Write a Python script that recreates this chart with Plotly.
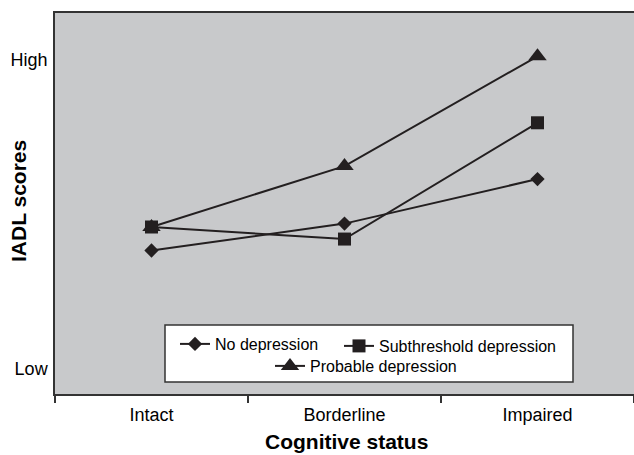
import plotly.graph_objects as go

categories = ["Intact", "Borderline", "Impaired"]
no_depression = [3.82, 4.69, 6.13]
subthreshold_depression = [4.58, 4.19, 7.95]
probable_depression = [4.58, 6.55, 10.1]
y_tick_vals = [0, 10]
y_tick_text = ["Low", "High"]
x_title = "Cognitive status"
y_title = "IADL scores"

INK = "#231f20"
FONT = "Liberation Sans, Arial, sans-serif"

fig = go.Figure()
series = [
    ("No depression", no_depression, "diamond", 11, "legend"),
    ("Subthreshold depression", subthreshold_depression, "square", 13, "legend2"),
    ("Probable depression", probable_depression, "triangle-up", 16, "legend3"),
]
# draw probable first so square sits on top at Intact
for name, vals, sym, size, lg in [series[2], series[0], series[1]]:
    fig.add_trace(go.Scatter(
        x=categories, y=vals, name=name, mode="lines+markers",
        line=dict(color=INK, width=2),
        marker=dict(symbol=sym, size=size, color=INK),
        legend=lg,
    ))

W, H = 634, 455
ml, mt, mb, mr = 55, 13, 61, 0
pw = W - ml - mr
ph = H - mt - mb

def px(x):
    return (x - ml) / pw

def py(y):
    return (H - mb - y) / ph

leg_common = dict(bgcolor="rgba(0,0,0,0)", borderwidth=0,
                  font=dict(family=FONT, size=16, color="#000"),
                  xanchor="left", yanchor="middle", orientation="h")

fig.update_layout(
    width=W, height=H,
    margin=dict(l=ml, r=mr, t=mt, b=mb, autoexpand=False),
    paper_bgcolor="white",
    plot_bgcolor="#c8c9cb",
    font=dict(family=FONT, color="#000"),
    showlegend=True,
    legend=dict(x=px(175), y=py(344), **leg_common),
    legend2=dict(x=px(339), y=py(346), **leg_common),
    legend3=dict(x=px(270), y=py(366), **leg_common),
    shapes=[dict(type="rect", xref="paper", yref="paper",
                 x0=px(165), x1=px(573), y0=py(382), y1=py(325),
                 line=dict(color="#333", width=1.5), fillcolor="white", layer="above")],
    annotations=[
        dict(text=f"<b>{x_title}</b>", xref="paper", yref="paper", x=px(346), y=py(441),
             xanchor="center", yanchor="middle", showarrow=False,
             font=dict(family=FONT, size=21, color="#000")),
        dict(text=f"<b>{y_title}</b>", xref="paper", yref="paper", x=px(18.5), y=py(201.5),
             xanchor="center", yanchor="middle", showarrow=False, textangle=-90,
             font=dict(family=FONT, size=21, color="#000")),
    ],
    xaxis=dict(
        type="category", range=[-0.5, 2.5], automargin=False,
        showline=True, linecolor="#333", linewidth=1.5, mirror=True,
        ticks="outside", tickson="boundaries", ticklen=7, tickcolor="#333", tickwidth=1.5,
        showgrid=False, zeroline=False,
        ticklabelstandoff=4,
        tickfont=dict(family=FONT, size=18, color="#000"),
    ),
    yaxis=dict(
        range=[-0.82, 11.5], automargin=False,
        tickvals=y_tick_vals, ticktext=y_tick_text,
        showline=True, linecolor="#333", linewidth=1.5,
        ticks="", showgrid=False, zeroline=False,
        ticklabelstandoff=2,
        tickfont=dict(family=FONT, size=18, color="#000"),
    ),
)

fig.write_html("out.html", config={"displayModeBar": False},
               post_script="document.body.style.margin='0';document.body.style.overflow='hidden';")
